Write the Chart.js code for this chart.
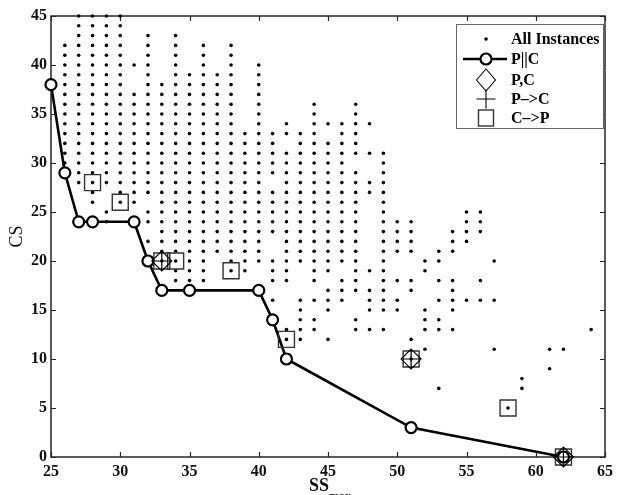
<!DOCTYPE html>
<html><head><meta charset="utf-8">
<script src="https://cdn.jsdelivr.net/npm/chart.js@4/dist/chart.umd.min.js"></script>
<style>html,body{margin:0;padding:0;background:#fff;}canvas{display:block;}</style>
</head><body>
<canvas id="c" width="618" height="495"></canvas>
<script>
// ---- data ----
const xTickValues = [25,30,35,40,45,50,55,60,65];
const yTickValues = [0,5,10,15,20,25,30,35,40,45];

// All instances: SS_max column values and the CS values present in each column
const instanceSS = [26,27,28,29,30,31,32,33,34,35,36,37,38,39,40,41,42,43,44,45,46,47,48,49,50,51,52,53,54,55,56,57,58,59,61,62,64];
const instanceCS = [
  [30,31,32,33,34,35,36,37,38,39,40,41,42],
  [28,29,30,31,32,33,34,35,36,37,38,39,40,41,42,43,44,45],
  [26,27,28,29,30,31,32,33,34,35,36,37,38,39,40,41,42,43,44,45],
  [24,25,28,29,30,31,32,33,34,35,36,37,38,39,40,41,42,43,44,45],
  [26,27,28,29,30,31,32,33,34,35,36,37,38,39,40,41,42,43,44,45],
  [26,27,28,29,30,31,32,33,34,35,36,37,40],
  [22,24,25,27,28,29,30,31,32,33,34,35,36,37,38,39,40,41,42,43],
  [20,21,22,23,24,25,26,27,28,29,30,31,32,33,34,35,36,37,38],
  [18,19,20,21,22,23,24,25,26,27,28,29,30,31,32,33,34,35,36,37,38,39,40,41,42,43],
  [18,19,20,21,22,23,24,25,26,27,28,29,30,31,32,33,34,35,36,37,38,39],
  [18,19,20,21,22,23,24,25,26,27,28,29,30,31,32,33,34,35,36,37,38,39,40,41,42],
  [21,22,23,24,25,26,27,28,29,30,31,32,33,34,35,36,37,38,39],
  [19,20,21,22,23,24,25,26,27,28,29,30,31,32,33,34,35,36,37,38,39,40,41,42],
  [19,20,21,22,23,24,25,26,27,28,29,30,31,32,33],
  [20,21,22,23,24,25,26,27,28,29,30,31,32,33,34,35,36,37,38,39,40],
  [16,18,19,20,23,24,25,26,27,29,30,31,32,33],
  [12,13,18,19,20,21,22,23,24,25,26,27,28,29,30,31,33,34],
  [12,13,14,15,16,20,21,22,23,24,25,26,27,28,29,30,31,32,33],
  [13,14,16,18,19,20,21,22,23,24,25,26,27,28,29,30,31,32,33,34,35,36],
  [12,15,16,17,19,20,21,22,23,24,25,26,27,28,29,30,31,32,34],
  [16,17,18,20,21,22,23,24,25,26,27,28,29,30,31,32,33,34],
  [13,14,17,18,19,20,21,22,23,24,25,26,27,28,29,31,32,33,34,35,36],
  [13,15,16,17,19,27,28,31,34],
  [13,15,16,17,18,19,20,21,22,23,24,25,26,27,28,29,30,31],
  [15,16,18,21,22,23,24],
  [10,12,17,18,21,22,23,24],
  [11,13,14,15,19,20],
  [7,13,14,16,18,20,21],
  [13,15,16,17,18,21,22,23],
  [16,22,23,24,25],
  [16,18,23,24,25],
  [11,16,20],
  [5],
  [7,8],
  [9,11],
  [0,11],
  [13]
];

// P||C frontier
const pParCSS = [25,26,27,28,31,32,33,35,40,41,42,51,62];
const pParCCS = [38,29,24,24,24,20,17,17,17,14,10,3,0];
// P,C
const pCommaCSS = [33,51,62];
const pCommaCCS = [20,10,0];
// P->C
const pToCSS = [33,51,62];
const pToCCS = [20,10,0];
// C->P
const cToPSS = [28,30,33,34,38,42,51,58,62];
const cToPCS = [28,26,20,20,19,12,10,5,0];

// ---- build ----
const toPts = (xs, ys) => xs.map((x, i) => ({x: x, y: ys[i]}));
const instancePts = [];
instanceSS.forEach((s, i) => instanceCS[i].forEach(c => instancePts.push({x: s, y: c})));

const SERIF = "'Liberation Serif','Times New Roman',serif";
const AX = '#262626';

const framePlugin = {
  id: 'frame',
  beforeDatasetsDraw(chart) {
    const ctx = chart.ctx, a = chart.chartArea;
    const xs = chart.scales.x, ys = chart.scales.y;
    ctx.save();
    ctx.strokeStyle = AX; ctx.lineWidth = 1.5;
    ctx.strokeRect(a.left, a.top, a.right - a.left, a.bottom - a.top);
    ctx.lineWidth = 1.2;
    ctx.beginPath();
    xs.ticks.forEach(t => {
      const px = Math.round(xs.getPixelForValue(t.value)) + 0.5;
      ctx.moveTo(px, a.bottom); ctx.lineTo(px, a.bottom - 5);
      ctx.moveTo(px, a.top); ctx.lineTo(px, a.top + 5);
    });
    ys.ticks.forEach(t => {
      const py = Math.round(ys.getPixelForValue(t.value)) + 0.5;
      ctx.moveTo(a.left, py); ctx.lineTo(a.left + 5, py);
      ctx.moveTo(a.right, py); ctx.lineTo(a.right - 5, py);
    });
    ctx.stroke();
    ctx.restore();
  },
  afterDraw(chart) {
    const ctx = chart.ctx, a = chart.chartArea;
    ctx.save();
    // x axis title SS_max
    ctx.fillStyle = '#111';
    ctx.font = 'bold 18px ' + SERIF;
    ctx.textBaseline = 'middle';
    ctx.textAlign = 'left';
    const ssW = ctx.measureText('SS').width;
    ctx.font = 'bold 12px ' + SERIF;
    const mW = ctx.measureText('max').width;
    const x0 = (a.left + a.right) / 2 - (ssW + mW) / 2 + 2;
    ctx.font = 'bold 18px ' + SERIF;
    ctx.fillText('SS', x0, 486);
    ctx.font = 'bold 12px ' + SERIF;
    ctx.fillText('max', x0 + ssW, 497);

    // legend
    const L = 456, T = 24, R = 603, B = 128;
    ctx.fillStyle = '#fff';
    ctx.fillRect(L, T, R - L, B - T);
    ctx.strokeStyle = '#666'; ctx.lineWidth = 1;
    ctx.strokeRect(L + 0.5, T + 0.5, R - L, B - T);
    const sx = 486, tx = 511;
    const rows = [39, 59, 80, 99, 118];
    const labels = ['All Instances', 'P||C', 'P,C', 'P\u2013>C', 'C\u2013>P'];
    ctx.fillStyle = '#000';
    ctx.font = 'bold 16px ' + SERIF;
    ctx.textBaseline = 'middle'; ctx.textAlign = 'left';
    labels.forEach((t, i) => ctx.fillText(t, tx, rows[i] + 1));
    // symbols
    ctx.beginPath(); ctx.arc(sx, rows[0], 1.8, 0, Math.PI * 2); ctx.fill();
    ctx.strokeStyle = '#000'; ctx.lineWidth = 2.6;
    ctx.beginPath(); ctx.moveTo(463, rows[1]); ctx.lineTo(507, rows[1]); ctx.stroke();
    ctx.fillStyle = '#fff'; ctx.lineWidth = 2.2;
    ctx.beginPath(); ctx.arc(sx, rows[1], 5.5, 0, Math.PI * 2); ctx.fill(); ctx.stroke();
    ctx.lineWidth = 1.1;
    ctx.beginPath();
    ctx.moveTo(sx - 9.5, rows[2]); ctx.lineTo(sx, rows[2] - 11); ctx.lineTo(sx + 9.5, rows[2]); ctx.lineTo(sx, rows[2] + 11); ctx.closePath();
    ctx.stroke();
    ctx.beginPath();
    ctx.moveTo(sx - 9.5, rows[3]); ctx.lineTo(sx + 9.5, rows[3]);
    ctx.moveTo(sx, rows[3] - 9.5); ctx.lineTo(sx, rows[3] + 9.5);
    ctx.stroke();
    ctx.strokeStyle = '#333'; ctx.lineWidth = 1.4;
    ctx.strokeRect(sx - 7.5, rows[4] - 8, 15, 16);
    ctx.restore();
  }
};

new Chart(document.getElementById('c'), {
  type: 'scatter',
  data: {
    datasets: [
      {label: 'All Instances', data: instancePts, pointRadius: 1.8, pointHoverRadius: 1.8,
       pointBackgroundColor: '#000', pointBorderWidth: 0, order: 5, clip: false},
      {label: 'P||C', data: toPts(pParCSS, pParCCS), showLine: true, borderColor: '#000', borderWidth: 2.6,
       pointRadius: 5.5, pointBackgroundColor: '#fff', pointBorderColor: '#000', pointBorderWidth: 2.2,
       order: 4, clip: false},
      {label: 'C->P', data: toPts(cToPSS, cToPCS), pointStyle: 'rect', pointRadius: 11.3,
       pointBackgroundColor: 'rgba(0,0,0,0)', pointBorderColor: '#333', pointBorderWidth: 1.4, order: 3, clip: false},
      {label: 'P,C', data: toPts(pCommaCSS, pCommaCCS), pointStyle: 'rectRot', pointRadius: 10,
       pointBackgroundColor: 'rgba(0,0,0,0)', pointBorderColor: '#000', pointBorderWidth: 1.1, order: 2, clip: false},
      {label: 'P->C', data: toPts(pToCSS, pToCCS), pointStyle: 'cross', pointRadius: 9,
       pointBorderColor: '#000', pointBorderWidth: 1.2, order: 1, clip: false}
    ]
  },
  options: {
    responsive: false, animation: false, devicePixelRatio: 1,
    layout: {padding: {top: 16, right: 8, left: 0, bottom: 0}},
    plugins: {legend: {display: false}, tooltip: {enabled: false}},
    scales: {
      x: {
        type: 'linear', position: 'bottom', min: 25, max: 65,
        afterBuildTicks(s) { s.ticks = xTickValues.map(v => ({value: v})); },
        ticks: {autoSkip: false, maxRotation: 0, color: '#111', padding: 5,
                font: {family: SERIF, size: 16, weight: 'bold'}},
        grid: {display: false, drawTicks: false}, border: {display: false},
        afterFit(s) { s.height = 38; }
      },
      y: {
        type: 'linear', position: 'left', min: 0, max: 45,
        afterBuildTicks(s) { s.ticks = yTickValues.map(v => ({value: v})); },
        ticks: {autoSkip: false, color: '#111', padding: 4,
                font: {family: SERIF, size: 16, weight: 'bold'}},
        grid: {display: false, drawTicks: false}, border: {display: false},
        title: {display: true, text: 'CS', color: '#111', padding: {top: 6, bottom: 0},
                font: {family: SERIF, size: 18, weight: 'normal'}},
        afterFit(s) { s.width = 51; }
      }
    }
  },
  plugins: [framePlugin]
});
</script>
</body></html>
